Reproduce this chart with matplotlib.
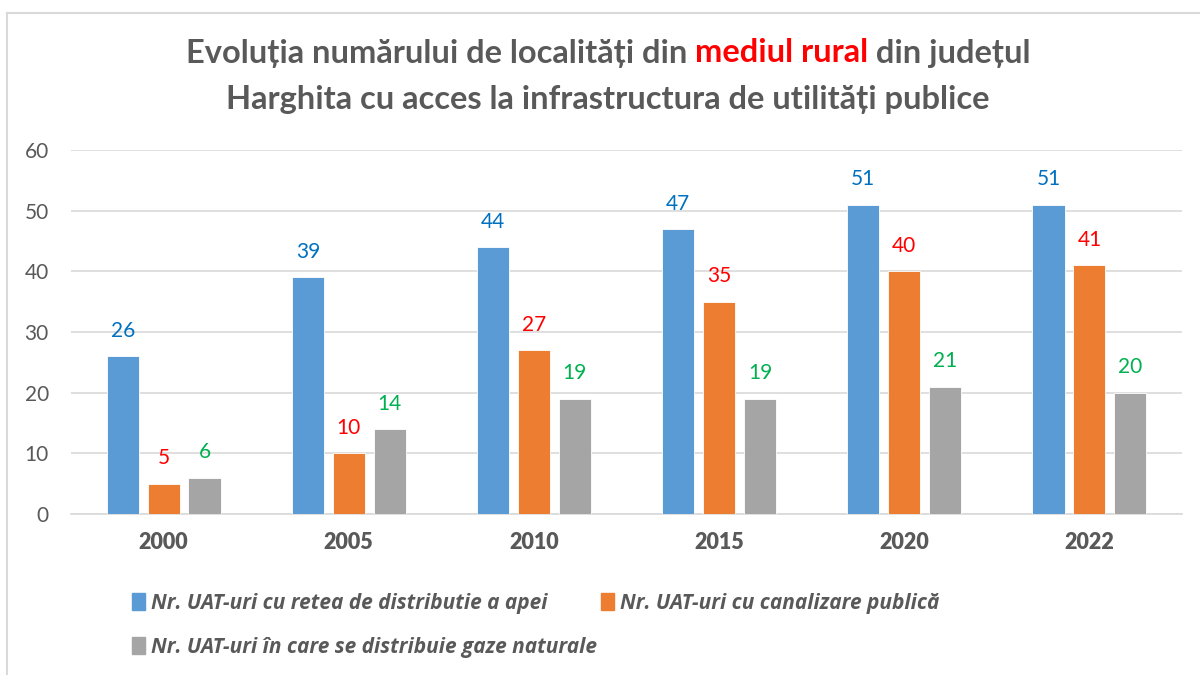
import matplotlib
matplotlib.use("Agg")
import matplotlib.pyplot as plt
import matplotlib.patches as mpatches
from matplotlib.lines import Line2D
import numpy as np

plt.rcParams['font.family'] = ['Lato', 'DejaVu Sans']

years = ["2000", "2005", "2010", "2015", "2020", "2022"]
apa = [26, 39, 44, 47, 51, 51]
canalizare = [5, 10, 27, 35, 40, 41]
gaze = [6, 14, 19, 19, 21, 20]

series = [
    ("Nr. UAT-uri cu retea de distributie a apei", apa, "#5B9BD5", "#0070C0"),
    ("Nr. UAT-uri cu canalizare publică", canalizare, "#ED7D31", "#FF0000"),
    ("Nr. UAT-uri în care se distribuie gaze naturale", gaze, "#A5A5A5", "#00B050"),
]

fig = plt.figure(figsize=(12, 6.75), dpi=100)
ax = fig.add_axes([71 / 1200, 1 - 514 / 675, 1111 / 1200, 364 / 675])

x = np.arange(len(years))
width = 0.173
step = 0.221
for i, (name, vals, color, lcolor) in enumerate(series):
    pos = x + (i - 1) * step
    ax.bar(pos, vals, width, color=color, edgecolor="white", linewidth=0.6, zorder=3)
    for xp, v in zip(pos, vals):
        ax.annotate(str(v), (xp, v), xytext=(0, 11), textcoords="offset points",
                    ha="center", va="bottom", fontsize=15, color=lcolor)

ax.set_xlim(-0.5, len(years) - 0.5)
ax.set_ylim(0, 60)
ax.set_yticks(range(0, 61, 10))
ax.yaxis.grid(True, color="#D9D9D9", lw=1.2, zorder=0)
for s in ["top", "right", "left"]:
    ax.spines[s].set_visible(False)
ax.spines["bottom"].set_color("#D9D9D9")
ax.spines["bottom"].set_linewidth(1.2)
ax.tick_params(length=0)
ax.tick_params(axis="y", labelsize=15, labelcolor="#595959", pad=16)
ax.set_xticks(x)
ax.set_xticklabels(years, fontsize=15.5, fontweight="heavy", color="#595959")
ax.tick_params(axis="x", pad=13)

# title, with "mediul rural" in red
tc = "#595959"
parts = [("Evoluția numărului de localități din ", tc), ("mediul rural", "#FF0000"),
         (" din județul", tc)]
renderer = fig.canvas.get_renderer()
texts = []
for s, c in parts:
    t = fig.text(0, 1 - 53 / 675, s, fontsize=23.5, fontweight="bold", color=c, va="center")
    texts.append(t)
widths = [t.get_window_extent(renderer).width for t in texts]
xstart = 608 - sum(widths) / 2
for t, w in zip(texts, widths):
    t.set_x(xstart / 1200)
    xstart += w
fig.text(608 / 1200, 1 - 99 / 675, "Harghita cu acces la infrastructura de utilități publice",
         fontsize=23.5, fontweight="bold", color=tc, ha="center", va="center")

# legend: two rows, built as two legends so the columns don't align
leg_font = dict(family=['Open Sans', 'DejaVu Sans'], size=15, weight="bold", style="italic")
leg_kw = dict(loc="center left", frameon=False, handlelength=0.6, handleheight=0.9,
              handletextpad=0.3, columnspacing=2.6, prop=leg_font, borderaxespad=0, borderpad=0)
rows = [[0, 1], [2]]
for row, yc in zip(rows, [603, 647]):
    handles = [mpatches.Patch(color=series[k][2], label=series[k][0]) for k in row]
    leg = fig.legend(handles=handles, ncol=len(row), bbox_to_anchor=(132 / 1200, 1 - yc / 675), **leg_kw)
    for t in leg.get_texts():
        t.set_color("#595959")

# chart frame
fig.add_artist(Line2D([7 / 1200, 7 / 1200], [0, 1 - 13 / 675], color="#D9D9D9", lw=1.5))
fig.add_artist(Line2D([7 / 1200, 1], [1 - 13 / 675, 1 - 13 / 675], color="#D9D9D9", lw=1.5))

fig.savefig("out.png", dpi=100)
